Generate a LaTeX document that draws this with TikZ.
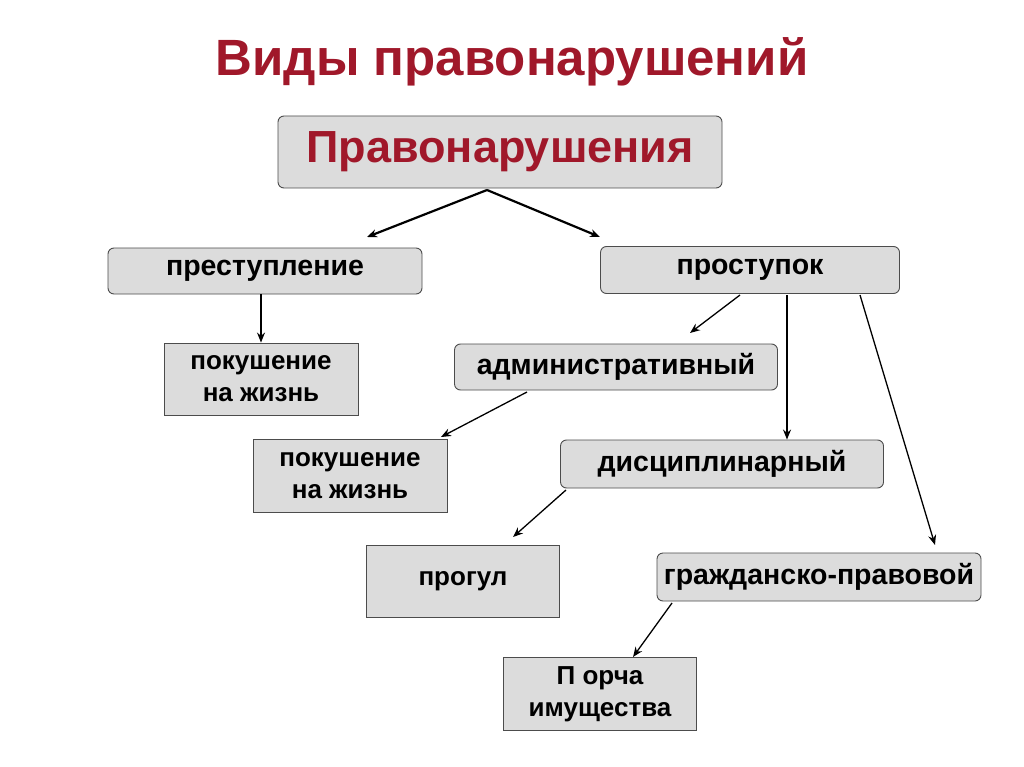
\documentclass[tikz,border=0pt]{standalone}
\usepackage{fontspec}
\setmainfont{Liberation Sans}
\usetikzlibrary{arrows.meta}
\definecolor{dred}{HTML}{A0182A}
\definecolor{boxg}{HTML}{DCDCDC}
\begin{document}
\begin{tikzpicture}[x=1pt,y=-1pt,
 rbox/.style={draw=black!70,fill=boxg,rounded corners=6pt,line width=0.9pt,inner sep=0pt,font=\bfseries\fontsize{28.5}{32}\selectfont},
 sbox/.style={draw=black!70,fill=boxg,line width=0.9pt,inner sep=0pt,align=center,font=\bfseries\fontsize{26}{32}\selectfont},
 arr/.style={-{Stealth[length=10pt,width=8pt]},line width=1.3pt}]
\fill[white] (0,0) rectangle (1024,767);
\node[text=dred,font=\bfseries\fontsize{51}{56}\selectfont] (t) at (512,62) {Виды правонарушений};
\node[rbox,minimum width=444,minimum height=72,text=dred,font=\bfseries\fontsize{45}{50}\selectfont] (p) at (500,152) {Правонарушения};
\node[rbox,minimum width=314,minimum height=46] (pr) at (265,271) {преступление};
\node[rbox,minimum width=299,minimum height=47] (ps) at (750,270) {проступок};
\node[sbox,minimum width=194,minimum height=72] (k1) at (261,379) {покушение\\на жизнь};
\node[rbox,minimum width=323,minimum height=46] (ad) at (616,367) {административный};
\node[sbox,minimum width=194,minimum height=73] (k2) at (350,476) {покушение\\на жизнь};
\node[rbox,minimum width=323,minimum height=48] (di) at (722,464) {дисциплинарный};
\node[sbox,minimum width=193,minimum height=72] (pg) at (463,581) {прогул};
\node[rbox,minimum width=324,minimum height=48] (gr) at (819,577) {гражданско-правовой};
\node[sbox,minimum width=193,minimum height=73] (po) at (600,694) {П орча\\имущества};
\coordinate (a1) at (487,190);
\draw[arr,line width=2.2pt] (a1) -- (367,237);
\draw[arr,line width=2.2pt] (a1) -- (600,237);
\draw[arr] (261,294) -- (k1.north -| 261,0);
\draw[arr] (740,295) -- (690,333);
\draw[arr] (787,295) -- (di.north -| 787,0);
\draw[arr] (860,295) -- (935,545);
\draw[arr] (527,392) -- (441,437);
\draw[arr] (566,490) -- (513,537);
\draw[arr] (672,603) -- (633,657);
\end{tikzpicture}
\end{document}
